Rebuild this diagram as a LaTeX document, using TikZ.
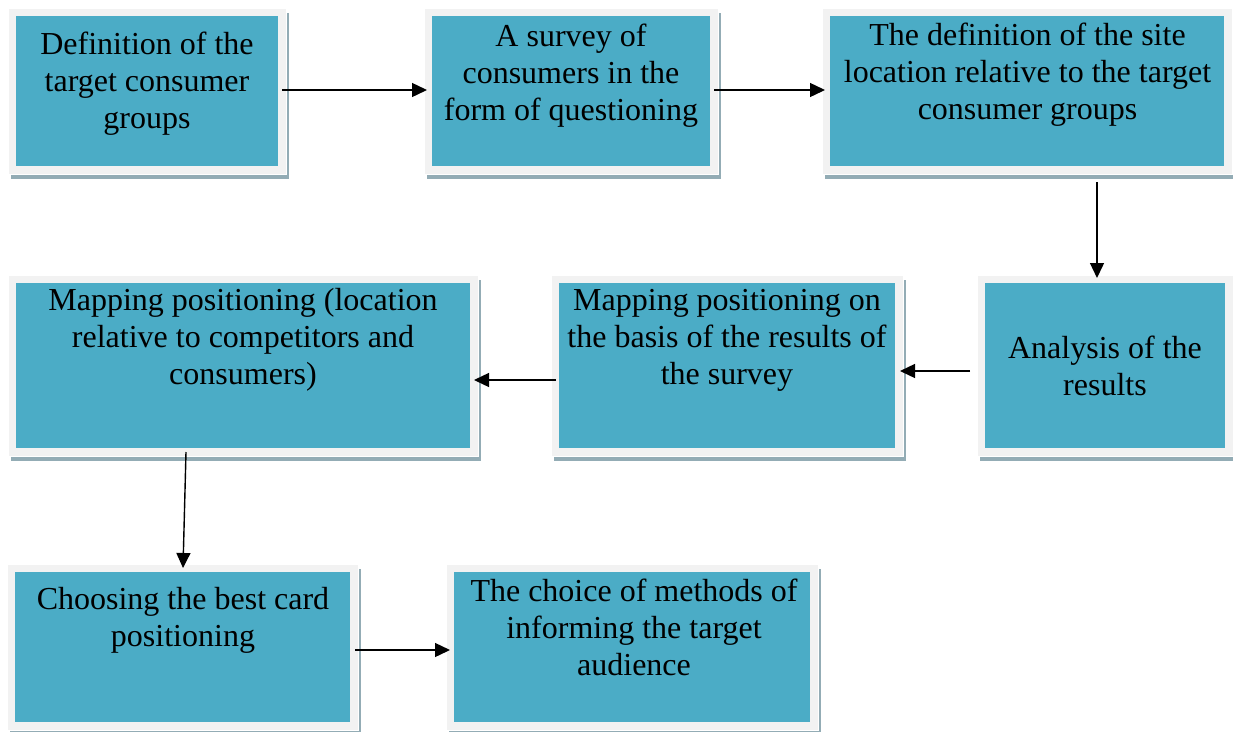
\documentclass[tikz,border=0pt]{standalone}
\usepackage{fontspec}
\setmainfont{Liberation Serif}
\usetikzlibrary{arrows.meta,calc}
\definecolor{teal1}{HTML}{4BACC6}
\definecolor{frame1}{HTML}{F2F2F2}
\definecolor{shadow1}{HTML}{93ACB5}
\newcommand{\fl}{\rule{0pt}{25pt}}
\begin{document}
\begin{tikzpicture}[x=1pt,y=-1pt,
  box/.style={fill=frame1, draw=white, line width=0.5pt, inner sep=0pt, outer sep=0pt, anchor=north west,
    preaction={fill=shadow1, draw=none, transform canvas={shift={(3pt,-5pt)}}},
    path picture={\fill[teal1] ([shift={(8pt,-8pt)}]path picture bounding box.north west) rectangle ([shift={(-8pt,8pt)}]path picture bounding box.south east);}},
  txt/.style={font=\fontsize{32}{37}\selectfont, align=center, inner sep=0pt, anchor=north},
  arr/.style={line width=1.4pt, -{Triangle[length=15pt,width=14pt]}}]
\useasboundingbox[fill=white] (0,0) rectangle (1233,731);
% boxes (outer frame)
\node[box, minimum width=278pt, minimum height=166pt] (b1) at (8,8) {};
\node[box, minimum width=294pt, minimum height=166pt] (b2) at (424,8) {};
\node[box, minimum width=410pt, minimum height=166pt] (b3) at (822,8) {};
\node[box, minimum width=256pt, minimum height=181pt] (b4) at (977,275) {};
\node[box, minimum width=352pt, minimum height=181pt] (b5) at (551,275) {};
\node[box, minimum width=470pt, minimum height=181pt] (b6) at (8,275) {};
\node[box, minimum width=351pt, minimum height=166pt] (b7) at (7,564) {};
\node[box, minimum width=372pt, minimum height=166pt] (b8) at (446,564) {};
% texts
\node[txt] (t1) at (147,29) {\fl Definition of the\\target consumer\\groups};
\node[txt] (t2) at (571,21) {\fl A survey of\\consumers in the\\form of questioning};
\node[txt] (t3) at (1027.5,20) {\fl The definition of the site\\location relative to the target\\consumer groups};
\node[txt] (t4) at (1105,333) {\fl Analysis of the\\results};
\node[txt] (t5) at (727,285) {\fl Mapping positioning on\\the basis of the results of\\the survey};
\node[txt] (t6) at (243,285) {\fl Mapping positioning (location\\relative to competitors and\\consumers)};
\node[txt] (t7) at (183,584) {\fl Choosing the best card\\positioning};
\node[txt] (t8) at (634,576) {\fl The choice of methods of\\informing the target\\audience};
% helper coordinates
\coordinate (c34) at (1097,0);
\coordinate (c45) at (0,371);
\coordinate (c56) at (0,380);
\coordinate (c78) at (0,650);
\coordinate (c67a) at (186,0);
\coordinate (c67b) at (183,0);
\coordinate (c12) at (0,90);
% connectors
\draw[arr] ($(b1.east |- c12)+(-4,0)$) -- ($(b2.west |- c12)+(3,0)$);
\draw[arr] ($(b2.east |- c12)+(-4,0)$) -- ($(b3.west |- c12)+(3,0)$);
\draw[arr] ($(b3.south -| c34)+(0,8)$) -- ($(b4.north -| c34)+(0,3)$);
\draw[arr] ($(b4.west |- c45)+(-7,0)$) -- ($(b5.east |- c45)+(-3,0)$);
\draw[arr] ($(b5.west |- c56)+(5,0)$) -- ($(b6.east |- c56)+(-4,0)$);
\draw[arr] ($(b6.south -| c67a)+(0,-4)$) -- ($(b7.north -| c67b)+(0,4)$);
\draw[arr] ($(b7.east |- c78)+(-3,0)$) -- ($(b8.west |- c78)+(4,0)$);
\end{tikzpicture}
\end{document}
